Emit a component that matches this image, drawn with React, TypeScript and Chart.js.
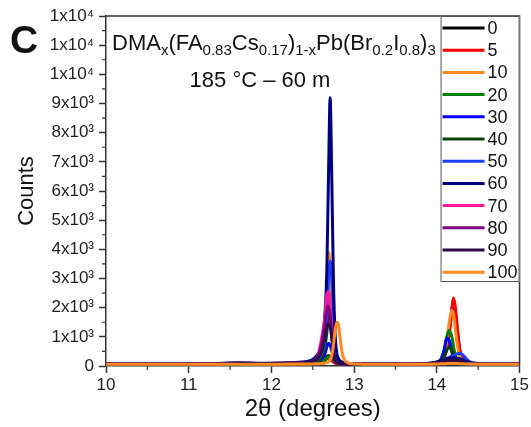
import React, { useEffect, useRef } from "react";
import { Chart, registerables } from "chart.js";

Chart.register(...registerables);

// 2θ sampling positions (degrees)
const TWO_THETA = [
  10, 10.5, 11, 11.3, 11.6, 11.9, 12.2, 12.4,
  12.5, 12.56, 12.61, 12.645, 12.67, 12.69, 12.71, 12.73, 12.75, 12.77, 12.79, 12.81, 12.83, 12.86, 12.9, 12.96,
  13.1, 13.4, 13.7, 13.9,
  14.0, 14.05, 14.09, 14.12, 14.15, 14.18, 14.2, 14.22, 14.25, 14.28, 14.31, 14.35, 14.4, 14.5,
  14.7, 15,
];

const LABELS = ["0", "5", "10", "20", "30", "40", "50", "60", "70", "80", "90", "100"];
const COLORS = [
  "#000000", "#ff0000", "#ff8a1f", "#008000", "#0000ff", "#0a400a",
  "#1e3cff", "#00007f", "#ff1a9c", "#800080", "#2d0a45", "#ff8a1f",
];

const COUNTS_0 = [60, 60, 60, 62, 65, 65, 70, 75,
  85, 110, 160, 240, 320, 350, 320, 240, 160, 115, 90, 78, 72, 68, 64, 62,
  60, 60, 62, 70,
  110, 170, 320, 600, 1150, 1850, 2250, 1950, 1150, 500, 240, 130, 90, 72,
  64, 60];
const COUNTS_5 = [60, 60, 60, 62, 64, 65, 68, 74,
  82, 100, 135, 190, 250, 270, 250, 190, 135, 100, 82, 74, 68, 65, 62, 60,
  60, 60, 62, 70,
  105, 160, 300, 580, 1100, 1900, 2330, 2100, 1250, 520, 240, 130, 90, 72,
  64, 60];
const COUNTS_10 = [60, 60, 60, 62, 65, 65, 70, 76,
  88, 120, 200, 500, 1900, 3900, 3300, 1300, 450, 200, 115, 85, 72, 66, 62, 60,
  60, 60, 62, 70,
  120, 200, 420, 850, 1500, 1900, 1800, 1350, 680, 290, 160, 105, 82, 70,
  64, 60];
const COUNTS_20 = [60, 60, 60, 62, 64, 65, 68, 74,
  82, 100, 135, 200, 270, 310, 330, 290, 210, 140, 98, 80, 70, 66, 62, 60,
  60, 60, 62, 72,
  130, 240, 560, 1000, 1230, 1020, 700, 400, 210, 130, 98, 82, 72, 66,
  62, 60];
const COUNTS_30 = [60, 62, 64, 68, 75, 75, 82, 90,
  110, 150, 240, 400, 650, 780, 720, 520, 320, 180, 115, 90, 78, 72, 66, 62,
  60, 60, 64, 78,
  130, 220, 560, 950, 880, 500, 290, 190, 130, 100, 85, 75, 70, 65,
  62, 60];
const COUNTS_40 = [60, 62, 64, 68, 75, 75, 82, 90,
  110, 160, 300, 600, 1150, 1650, 1800, 1450, 850, 380, 170, 110, 85, 75, 68, 64,
  60, 60, 64, 78,
  120, 180, 340, 540, 650, 520, 360, 230, 150, 110, 92, 82, 74, 66,
  62, 60];
const COUNTS_50 = [62, 64, 68, 74, 85, 85, 98, 115,
  150, 240, 420, 850, 1700, 2900, 3600, 3050, 1800, 780, 340, 190, 130, 98, 80, 70,
  65, 65, 70, 85,
  120, 160, 210, 260, 300, 340, 360, 390, 420, 430, 390, 270, 140, 90,
  68, 62];
const COUNTS_60 = [65, 66, 72, 85, 110, 95, 110, 150,
  220, 400, 700, 1700, 3300, 6500, 9200, 6400, 2900, 1100, 450, 260, 180, 130, 100, 80,
  70, 70, 76, 92,
  140, 180, 220, 250, 270, 280, 280, 280, 270, 250, 220, 170, 115, 85,
  70, 65];
const COUNTS_70 = [60, 62, 64, 68, 82, 80, 88, 105,
  140, 330, 1000, 1650, 2450, 2550, 2050, 1250, 550, 220, 130, 95, 80, 72, 66, 62,
  60, 60, 64, 74,
  95, 110, 120, 130, 135, 135, 135, 130, 125, 118, 105, 90, 78, 68,
  62, 60];
const COUNTS_80 = [60, 62, 64, 72, 100, 88, 100, 120,
  160, 320, 800, 1400, 1950, 2050, 1750, 1050, 480, 220, 130, 95, 82, 74, 68, 64,
  60, 60, 64, 78,
  110, 130, 150, 170, 180, 180, 175, 170, 160, 150, 130, 105, 85, 70,
  62, 60];
const COUNTS_90 = [60, 62, 64, 70, 90, 82, 95, 115,
  150, 260, 520, 950, 1350, 1450, 1350, 950, 480, 220, 130, 95, 82, 74, 68, 64,
  60, 60, 64, 78,
  110, 130, 160, 180, 190, 195, 195, 190, 180, 160, 130, 105, 85, 70,
  62, 60];
const COUNTS_100 = [58, 58, 58, 60, 62, 62, 65, 68,
  70, 74, 82, 95, 115, 145, 210, 360, 720, 1200, 1500, 1420, 950, 380, 150, 85,
  64, 60, 60, 62,
  70, 74, 78, 82, 86, 86, 86, 86, 82, 78, 74, 70, 66, 62,
  60, 58];

const SERIES = [COUNTS_0, COUNTS_5, COUNTS_10, COUNTS_20, COUNTS_30, COUNTS_40,
  COUNTS_50, COUNTS_60, COUNTS_70, COUNTS_80, COUNTS_90, COUNTS_100];

const X_MINOR = [10.5, 11.5, 12.5, 13.5, 14.5];
const Y_MINOR = [500, 1500, 2500, 3500, 4500, 5500, 6500, 7500, 8500, 9500, 10500, 11500];

const FORMULA: [string, boolean][] = [
  ["DMA", false], ["x", true], ["(FA", false], ["0.83", true], ["Cs", false], ["0.17", true],
  [")", false], ["1-x", true], ["Pb(Br", false], ["0.2", true], ["I", false], ["0.8", true],
  [")", false], ["3", true],
];
const CONDITION = "185 \u00B0C \u2013 60 m";
const PANEL = "C";

const FONT = "'Liberation Sans', Arial, sans-serif";

const yLabel = (v: number) => {
  if (v === 0) return "0";
  if (v >= 10000) return "1x10\u2074";
  return `${Math.round(v / 1000)}x10\u00B3`;
};

const overlay = {
  id: "overlay",
  afterDraw(chart: any) {
    const { ctx, chartArea } = chart;
    const { left, right, top, bottom } = chartArea;
    const xs = chart.scales.x;
    const ys = chart.scales.y;
    ctx.save();
    // frame top/right
    ctx.strokeStyle = "#333";
    ctx.lineWidth = 1.5;
    ctx.beginPath();
    ctx.moveTo(left, top);
    ctx.lineTo(right, top);
    ctx.lineTo(right, bottom);
    ctx.stroke();
    // minor ticks
    ctx.lineWidth = 1.2;
    ctx.beginPath();
    X_MINOR.forEach((v) => {
      const px = xs.getPixelForValue(v);
      ctx.moveTo(px, bottom);
      ctx.lineTo(px, bottom + 4);
    });
    Y_MINOR.forEach((v) => {
      const py = ys.getPixelForValue(v);
      ctx.moveTo(left, py);
      ctx.lineTo(left - 4, py);
    });
    ctx.stroke();

    // legend
    const bw = 79;
    const bx = right - bw;
    const by = top;
    const bh = 266;
    ctx.fillStyle = "#fff";
    ctx.fillRect(bx, by, bw, bh);
    ctx.strokeStyle = "#555";
    ctx.lineWidth = 1;
    ctx.strokeRect(bx + 0.5, by + 0.5, bw - 1, bh - 1);
    ctx.font = `18px ${FONT}`;
    ctx.textBaseline = "middle";
    ctx.textAlign = "left";
    LABELS.forEach((lab, i) => {
      const yy = by + 12 + i * 22.2;
      ctx.strokeStyle = COLORS[i];
      ctx.lineWidth = 3;
      ctx.beginPath();
      ctx.moveTo(bx + 2, yy);
      ctx.lineTo(bx + 44, yy);
      ctx.stroke();
      ctx.fillStyle = "#111";
      ctx.fillText(lab, bx + 47, yy + 1);
    });

    // panel letter
    ctx.fillStyle = "#111";
    ctx.textBaseline = "alphabetic";
    ctx.font = `bold 39px ${FONT}`;
    ctx.fillText(PANEL, 10, 53);

    // formula
    let cx = 112;
    const base = 50;
    FORMULA.forEach(([t, sub]) => {
      ctx.font = sub ? `15px ${FONT}` : `22px ${FONT}`;
      ctx.fillText(t, cx, sub ? base + 5 : base);
      cx += ctx.measureText(t).width;
    });

    // condition
    ctx.font = `22px ${FONT}`;
    ctx.textAlign = "center";
    ctx.fillText(CONDITION, 260, 87);
    ctx.restore();
  },
};

export default function App() {
  const ref = useRef<HTMLCanvasElement | null>(null);
  useEffect(() => {
    document.body.style.margin = "0";
    const n = SERIES.length;
    const chart = new Chart(ref.current!, {
      type: "line",
      data: {
        datasets: SERIES.map((vals, i) => ({
          label: LABELS[i],
          data: TWO_THETA.map((x, j) => ({ x, y: vals[j] })),
          borderColor: COLORS[i],
          backgroundColor: COLORS[i],
          borderWidth: 3,
          pointRadius: 0,
          fill: false,
          cubicInterpolationMode: "monotone" as const,
          order: n - i,
        })),
      },
      options: {
        animation: false,
        responsive: true,
        maintainAspectRatio: false,
        layout: { padding: { top: 16, right: 10, left: 0, bottom: 0 } },
        plugins: { legend: { display: false }, tooltip: { enabled: false } },
        scales: {
          x: {
            type: "linear",
            min: 10,
            max: 15,
            ticks: {
              stepSize: 1,
              color: "#222",
              font: { size: 17, family: FONT },
              padding: 2,
              maxRotation: 0,
            },
            grid: {
              drawOnChartArea: false,
              tickLength: 7,
              tickColor: "#333",
              tickWidth: 1.5,
            },
            border: { color: "#333", width: 1.5 },
            title: {
              display: true,
              text: "2\u03B8 (degrees)",
              color: "#111",
              font: { size: 24, family: FONT },
              padding: { top: 0, bottom: 3 },
            },
            afterFit: (s: any) => {
              s.height = 61;
            },
          },
          y: {
            min: 0,
            max: 12000,
            ticks: {
              stepSize: 1000,
              color: "#222",
              font: { size: 17, family: FONT },
              padding: 5,
              callback: (v: any) => yLabel(Number(v)),
            },
            grid: {
              drawOnChartArea: false,
              tickLength: 7,
              tickColor: "#333",
              tickWidth: 1.5,
            },
            border: { color: "#333", width: 1.5 },
            title: {
              display: true,
              text: "Counts",
              color: "#111",
              font: { size: 22, family: FONT },
              padding: { top: 14, bottom: 0 },
            },
            afterFit: (s: any) => {
              s.width = 106;
            },
          },
        },
      },
      plugins: [overlay],
    });
    return () => chart.destroy();
  }, []);
  return (
    <div style={{ width: 531, height: 427, position: "relative" }}>
      <canvas ref={ref} />
    </div>
  );
}
